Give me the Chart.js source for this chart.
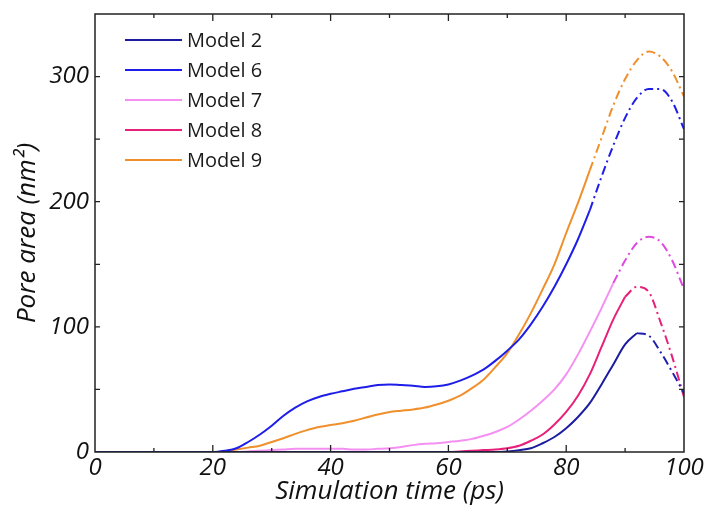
<!DOCTYPE html>
<html>
<head>
<meta charset="utf-8">
<script src="https://cdn.jsdelivr.net/npm/chart.js@4.4.1/dist/chart.umd.min.js"></script>
<style>
  html, body { margin: 0; padding: 0; background: #fff; }
  #wrap { width: 707px; height: 507px; }
</style>
</head>
<body>
<div id="wrap"><canvas id="poreChart" width="707" height="507"></canvas></div>
<script>
// simulation time (ps)
const times = [0, 10, 20, 22, 24, 26, 28, 30, 32, 34, 36, 38, 40, 42, 44, 46, 48, 50, 52, 54, 56, 58, 60,
    62, 64, 66, 68, 70, 72, 74, 76, 78, 80, 82, 84, 86, 88, 90, 92, 94, 96, 98, 100];

// pore area (nm^2) per model
const model2 = [0, 0, 0, 0, 0, 0, 0, 0, 0, 0, 0, 0, 0, 0, 0, 0, 0, 0, 0, 0, 0, 0, 0,
    0, 0, 0, 0, 0.5, 1.5, 3, 7, 12, 19, 28, 39, 54, 70, 86, 95, 93, 80, 64, 47];
const model6 = [0, 0, 0, 1, 3, 8, 14, 21, 29, 35.5, 40.5, 44, 46.5, 48.5, 50.5, 52, 53.5, 54, 53.5, 53, 52, 52.5, 54,
    57, 61, 66, 73, 81, 90, 102, 116, 132, 150, 170, 193, 220, 245, 267, 283, 290, 290, 280, 258];
const model7 = [0, 0, 0, 0, 0, 0.5, 1, 1.5, 2, 2.5, 2.5, 2.5, 2.5, 2.5, 2, 2, 2.5, 3, 4, 5.5, 6.5, 7, 8,
    9, 10.5, 13, 16, 20, 26, 33, 41, 50, 62, 78, 96, 115, 135, 153, 167, 172, 168, 153, 130];
const model8 = [0, 0, 0, 0, 0, 0, 0, 0, 0, 0, 0, 0, 0, 0, 0, 0, 0, 0, 0, 0, 0, 0, 0,
    0.5, 1, 1.5, 2, 3, 5, 9, 14, 22, 32, 45, 62, 84, 106, 124, 132, 128, 104, 76, 44];
const model9 = [0, 0, 0, 0.5, 2, 3.5, 5, 8, 11, 14.5, 17.5, 20, 21.5, 23, 25, 27.5, 30, 32, 33, 34, 35.5, 38, 41,
    45, 51, 58, 68, 79, 94, 111, 130, 150, 175, 199, 225, 251, 277, 298, 313, 320, 316, 304, 284];

const modelNames = ["Model 2", "Model 6", "Model 7", "Model 8", "Model 9"];
const modelValues = [model2, model6, model7, model8, model9];
// time where the solid trace turns into dash-dot
const cutTimes = [92, 84, 88, 90, 84];
const solidColors = ["#1c1ca0", "#1e1ee8", "#f590f2", "#e8207a", "#f0902c"];
const dashColors = ["#2020b0", "#1e1ee8", "#e048e0", "#e8207a", "#f0902c"];

const xTicks = [0, 20, 40, 60, 80, 100];
const yTicks = [0, 100, 200, 300];

const font = "'Open Sans', 'DejaVu Sans', sans-serif";

let datasets = [];
modelValues.forEach((vals, m) => {
    datasets.push({
        label: modelNames[m],
        data: vals.map((v, i) => ({ x: times[i], y: times[i] <= cutTimes[m] ? v : null })),
        borderColor: solidColors[m],
        borderWidth: 2,
        pointRadius: 0,
        cubicInterpolationMode: "monotone",
        spanGaps: false,
    });
});
modelValues.forEach((vals, m) => {
    datasets.push({
        label: modelNames[m] + " (dash)",
        data: vals.map((v, i) => ({ x: times[i], y: times[i] >= cutTimes[m] ? v : null })),
        borderColor: dashColors[m],
        borderWidth: 2,
        borderDash: [9, 4, 2, 4],
        pointRadius: 0,
        cubicInterpolationMode: "monotone",
        spanGaps: false,
    });
});

// frame with inward ticks on all four sides
const framePlugin = {
    id: "frame",
    afterDatasetsDraw(chart) {
        const { ctx, chartArea: a, scales } = chart;
        ctx.save();
        ctx.strokeStyle = "#222";
        ctx.lineWidth = 1.5;
        ctx.strokeRect(a.left, a.top, a.right - a.left, a.bottom - a.top);
        ctx.lineWidth = 1.3;
        ctx.beginPath();
        for (let t = 10; t < 100; t += 10) {
            const px = scales.x.getPixelForValue(t);
            const len = t % 20 === 0 ? 7 : 4;
            ctx.moveTo(px, a.bottom); ctx.lineTo(px, a.bottom - len);
            ctx.moveTo(px, a.top); ctx.lineTo(px, a.top + len);
        }
        for (let v = 50; v < 350; v += 50) {
            const py = scales.y.getPixelForValue(v);
            ctx.moveTo(a.left, py); ctx.lineTo(a.left + 5, py);
            ctx.moveTo(a.right, py); ctx.lineTo(a.right - 5, py);
        }
        ctx.stroke();
        ctx.restore();
    },
};

// legend drawn inside the plot area
const legendPlugin = {
    id: "insideLegend",
    afterDraw(chart) {
        const { ctx, chartArea: a } = chart;
        ctx.save();
        ctx.font = "20px " + font;
        ctx.textBaseline = "middle";
        ctx.fillStyle = "#1a1a1a";
        modelNames.forEach((name, i) => {
            const y = a.top + 26 + i * 30;
            ctx.strokeStyle = solidColors[i];
            ctx.lineWidth = 2;
            ctx.beginPath();
            ctx.moveTo(a.left + 30, y);
            ctx.lineTo(a.left + 87, y);
            ctx.stroke();
            ctx.fillText(name, a.left + 92, y + 1);
        });
        ctx.restore();
    },
};

new Chart(document.getElementById("poreChart"), {
    type: "line",
    data: { datasets: datasets },
    options: {
        responsive: false,
        animation: false,
        layout: { padding: { top: 14, right: 23, left: 0, bottom: 0 } },
        plugins: {
            legend: { display: false },
            tooltip: { enabled: false },
        },
        scales: {
            x: {
                type: "linear",
                min: 0,
                max: 100,
                afterBuildTicks: (s) => { s.ticks = xTicks.map((v) => ({ value: v })); },
                afterFit: (s) => { s.height = 55; },
                ticks: {
                    color: "#111",
                    padding: 2,
                    font: { family: font, size: 24, style: "italic" },
                },
                grid: { display: false, drawTicks: false },
                border: { display: false },
                title: {
                    display: true,
                    text: "Simulation time (ps)",
                    color: "#111",
                    padding: { top: 0, bottom: 0 },
                    font: { family: font, size: 26, style: "italic" },
                },
            },
            y: {
                min: 0,
                max: 350,
                afterBuildTicks: (s) => { s.ticks = yTicks.map((v) => ({ value: v })); },
                afterFit: (s) => { s.width = 95; s.paddingTop = 0; },
                ticks: {
                    color: "#111",
                    padding: 6,
                    font: { family: font, size: 24, style: "italic", lineHeight: 0.9 },
                },
                grid: { display: false, drawTicks: false },
                border: { display: false },
                title: {
                    display: true,
                    text: "Pore area (nm²)",
                    color: "#111",
                    padding: { top: 12, bottom: 0 },
                    font: { family: font, size: 26, style: "italic" },
                },
            },
        },
    },
    plugins: [framePlugin, legendPlugin],
});
</script>
</body>
</html>
